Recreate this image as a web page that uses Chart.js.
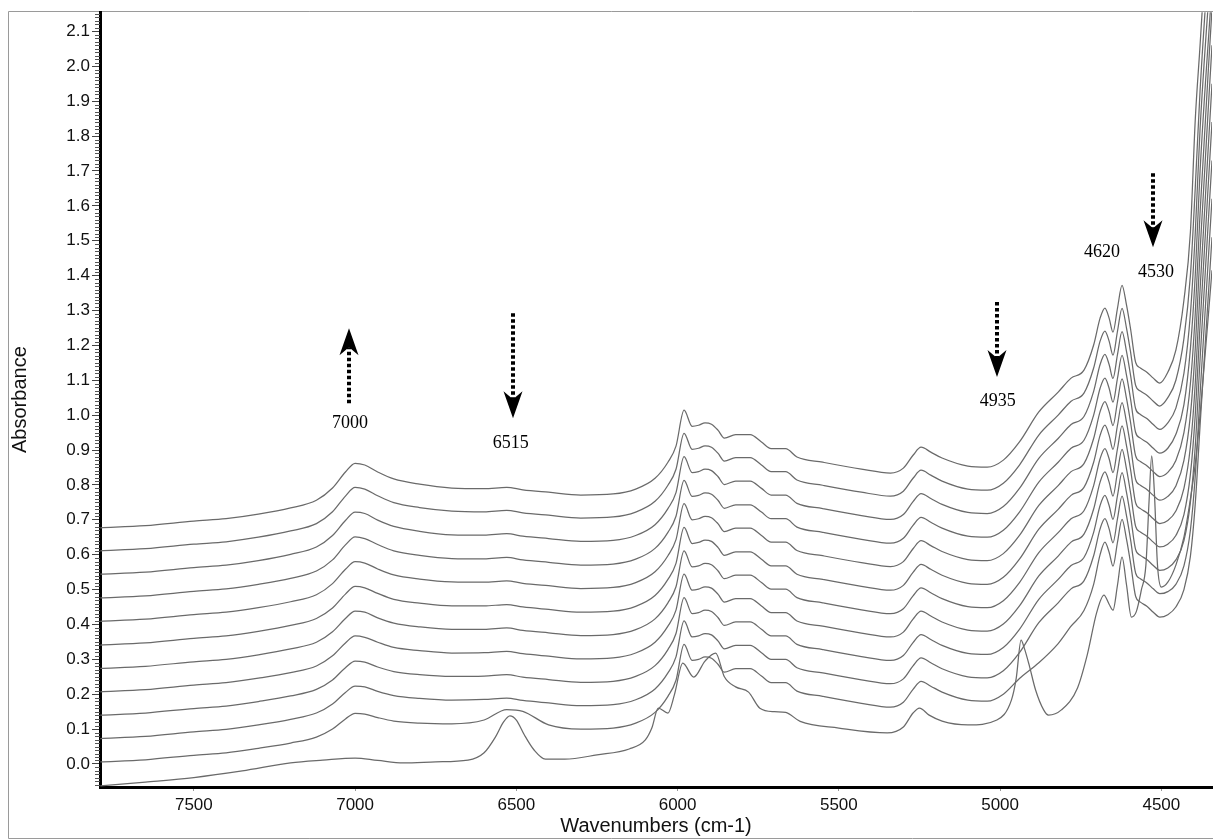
<!DOCTYPE html>
<html>
<head>
<meta charset="utf-8">
<script src="https://cdn.jsdelivr.net/npm/chart.js@4.4.1/dist/chart.umd.min.js"></script>
<style>
html,body{margin:0;padding:0;background:#fff;}
canvas{display:block;}
</style>
</head>
<body>
<canvas id="c" width="1213" height="840"></canvas>
<script>
// ---------- DATA ----------
const xTicks = [7500, 7000, 6500, 6000, 5500, 5000, 4500];
const yTicks = [0.0,0.1,0.2,0.3,0.4,0.5,0.6,0.7,0.8,0.9,1.0,1.1,1.2,1.3,1.4,1.5,1.6,1.7,1.8,1.9,2.0,2.1];
const xMin = 4343, xMax = 7791, yMin = -0.066, yMax = 2.155;
const yMinorStep = 0.01;

const wavenumbers = [7790,7650,7500,7400,7300,7200,7120,7070,7030,7000,6970,6930,6880,6800,6700,6600,6530,6480,6400,6300,6200,6130,6070,6030,6005,5980,5955,5935,5915,5895,5875,5855,5820,5775,5740,5710,5665,5630,5550,5430,5340,5300,5270,5245,5215,5180,5100,5040,4990,4940,4880,4820,4780,4740,4710,4690,4675,4662,4650,4636,4622,4608,4595,4580,4565,4545,4525,4505,4480,4455,4430,4410,4395,4380,4343];

const spectrum1 = [0.677,0.683,0.696,0.703,0.716,0.734,0.756,0.791,0.837,0.862,0.857,0.837,0.817,0.802,0.791,0.789,0.793,0.786,0.779,0.771,0.774,0.788,0.819,0.865,0.911,1.014,0.968,0.971,0.978,0.974,0.957,0.934,0.944,0.944,0.923,0.904,0.904,0.880,0.865,0.845,0.834,0.848,0.885,0.908,0.894,0.877,0.854,0.851,0.871,0.923,1.009,1.066,1.106,1.129,1.201,1.278,1.307,1.278,1.238,1.307,1.372,1.315,1.244,1.152,1.135,1.123,1.106,1.092,1.123,1.186,1.330,1.524,1.845,2.060,2.619];
const spectrum2 = [0.611,0.617,0.630,0.637,0.650,0.668,0.689,0.723,0.768,0.793,0.788,0.769,0.749,0.735,0.725,0.723,0.727,0.720,0.713,0.705,0.708,0.722,0.753,0.799,0.845,0.948,0.902,0.905,0.912,0.908,0.891,0.868,0.878,0.878,0.857,0.838,0.838,0.814,0.799,0.779,0.768,0.782,0.819,0.842,0.828,0.811,0.788,0.785,0.805,0.857,0.943,1.000,1.040,1.063,1.135,1.212,1.241,1.212,1.172,1.241,1.306,1.249,1.178,1.086,1.069,1.057,1.040,1.026,1.050,1.100,1.220,1.400,1.650,1.930,2.450];
const spectrum3 = [0.544,0.550,0.563,0.570,0.583,0.601,0.622,0.655,0.698,0.722,0.718,0.699,0.681,0.667,0.657,0.656,0.660,0.653,0.646,0.638,0.641,0.655,0.686,0.732,0.778,0.881,0.835,0.838,0.845,0.841,0.824,0.801,0.811,0.811,0.790,0.771,0.771,0.747,0.732,0.712,0.701,0.715,0.752,0.775,0.761,0.744,0.721,0.718,0.738,0.790,0.876,0.933,0.973,0.996,1.068,1.145,1.174,1.145,1.105,1.174,1.239,1.182,1.111,1.019,1.002,0.990,0.973,0.959,0.978,1.020,1.120,1.290,1.520,1.820,2.330];
const spectrum4 = [0.476,0.482,0.495,0.502,0.515,0.532,0.553,0.585,0.628,0.651,0.646,0.629,0.611,0.598,0.589,0.588,0.592,0.585,0.578,0.570,0.573,0.587,0.618,0.664,0.710,0.813,0.767,0.770,0.777,0.773,0.756,0.733,0.743,0.743,0.722,0.703,0.703,0.679,0.664,0.644,0.633,0.647,0.684,0.707,0.693,0.676,0.653,0.650,0.670,0.722,0.808,0.865,0.905,0.928,1.000,1.077,1.106,1.077,1.037,1.106,1.171,1.114,1.043,0.951,0.934,0.922,0.905,0.891,0.905,0.945,1.030,1.190,1.400,1.700,2.230];
const spectrum5 = [0.409,0.415,0.428,0.435,0.448,0.465,0.485,0.517,0.558,0.580,0.576,0.559,0.542,0.530,0.522,0.521,0.525,0.518,0.511,0.503,0.506,0.520,0.551,0.597,0.643,0.746,0.700,0.703,0.710,0.706,0.689,0.666,0.676,0.676,0.655,0.636,0.636,0.612,0.597,0.577,0.566,0.580,0.617,0.640,0.626,0.609,0.586,0.583,0.603,0.655,0.741,0.798,0.838,0.861,0.933,1.010,1.039,1.010,0.970,1.039,1.104,1.047,0.976,0.884,0.867,0.855,0.838,0.824,0.836,0.870,0.950,1.090,1.290,1.580,2.165];
const spectrum6 = [0.341,0.347,0.360,0.367,0.380,0.397,0.417,0.447,0.487,0.509,0.505,0.489,0.472,0.461,0.453,0.453,0.457,0.450,0.443,0.435,0.438,0.452,0.483,0.529,0.575,0.678,0.632,0.635,0.642,0.638,0.621,0.598,0.608,0.608,0.587,0.568,0.568,0.544,0.529,0.509,0.498,0.512,0.549,0.572,0.558,0.541,0.518,0.515,0.535,0.587,0.673,0.730,0.770,0.793,0.865,0.942,0.971,0.942,0.902,0.971,1.036,0.979,0.908,0.816,0.799,0.787,0.770,0.756,0.767,0.797,0.870,1.000,1.190,1.470,2.060];
const spectrum7 = [0.274,0.280,0.293,0.300,0.313,0.330,0.349,0.379,0.417,0.438,0.435,0.419,0.404,0.393,0.386,0.386,0.390,0.383,0.376,0.368,0.371,0.385,0.416,0.462,0.508,0.611,0.565,0.568,0.575,0.571,0.554,0.531,0.541,0.541,0.520,0.501,0.501,0.477,0.462,0.442,0.431,0.445,0.482,0.505,0.491,0.474,0.451,0.448,0.468,0.520,0.606,0.663,0.703,0.726,0.798,0.875,0.904,0.875,0.835,0.904,0.969,0.912,0.841,0.749,0.732,0.720,0.703,0.689,0.698,0.725,0.790,0.910,1.090,1.360,1.950];
const spectrum8 = [0.207,0.213,0.226,0.233,0.246,0.262,0.281,0.310,0.347,0.367,0.363,0.349,0.334,0.325,0.318,0.319,0.323,0.316,0.309,0.301,0.304,0.318,0.349,0.395,0.441,0.544,0.498,0.501,0.508,0.504,0.487,0.464,0.474,0.474,0.453,0.434,0.434,0.410,0.395,0.375,0.364,0.378,0.415,0.438,0.424,0.407,0.384,0.381,0.401,0.453,0.539,0.596,0.636,0.659,0.731,0.808,0.837,0.808,0.768,0.837,0.902,0.845,0.774,0.682,0.665,0.653,0.636,0.622,0.630,0.655,0.715,0.830,1.000,1.260,1.840];
const spectrum9 = [0.140,0.146,0.159,0.166,0.179,0.195,0.214,0.241,0.276,0.295,0.292,0.278,0.265,0.256,0.251,0.252,0.256,0.249,0.242,0.234,0.237,0.251,0.282,0.328,0.374,0.477,0.431,0.434,0.441,0.437,0.420,0.397,0.407,0.407,0.386,0.367,0.367,0.343,0.328,0.308,0.297,0.311,0.348,0.371,0.357,0.340,0.317,0.314,0.334,0.386,0.472,0.529,0.569,0.592,0.664,0.741,0.770,0.741,0.701,0.770,0.835,0.778,0.707,0.615,0.598,0.586,0.569,0.555,0.562,0.585,0.640,0.750,0.910,1.160,1.730];
const spectrum10 = [0.073,0.079,0.092,0.099,0.112,0.128,0.146,0.172,0.205,0.223,0.221,0.208,0.196,0.188,0.183,0.185,0.189,0.182,0.175,0.167,0.170,0.184,0.215,0.261,0.307,0.410,0.364,0.367,0.374,0.370,0.353,0.330,0.340,0.340,0.319,0.300,0.300,0.276,0.261,0.241,0.230,0.244,0.281,0.304,0.290,0.273,0.250,0.247,0.267,0.319,0.405,0.462,0.502,0.525,0.597,0.674,0.703,0.674,0.634,0.703,0.768,0.711,0.640,0.548,0.531,0.519,0.502,0.488,0.494,0.515,0.568,0.670,0.825,1.060,1.620];
const spectrum11 = [0.006,0.012,0.025,0.032,0.045,0.060,0.077,0.100,0.129,0.145,0.143,0.133,0.123,0.117,0.115,0.126,0.156,0.151,0.112,0.100,0.103,0.117,0.148,0.194,0.240,0.343,0.297,0.300,0.307,0.303,0.286,0.263,0.273,0.273,0.252,0.233,0.233,0.209,0.194,0.174,0.163,0.177,0.214,0.237,0.223,0.206,0.183,0.180,0.200,0.245,0.290,0.345,0.395,0.440,0.515,0.600,0.636,0.607,0.567,0.636,0.701,0.644,0.573,0.481,0.464,0.452,0.435,0.421,0.428,0.450,0.500,0.595,0.745,0.970,1.510];

const spectrum12Wavenumbers = [7790,7650,7500,7350,7200,7100,7000,6930,6850,6750,6650,6600,6565,6540,6520,6500,6475,6445,6410,6350,6250,6150,6100,6080,6060,6030,6010,5984,5950,5915,5882,5855,5820,5780,5745,5700,5665,5620,5500,5350,5300,5270,5250,5220,5180,5100,5010,4965,4950,4935,4925,4910,4890,4865,4850,4810,4760,4730,4700,4678,4662,4650,4636,4622,4608,4593,4578,4562,4548,4538,4530,4522,4512,4500,4480,4455,4430,4410,4395,4380,4343];
const spectrum12 = [-0.063,-0.052,-0.039,-0.020,0.003,0.011,0.017,0.010,0.003,0.006,0.011,0.032,0.077,0.120,0.138,0.126,0.083,0.040,0.014,0.014,0.026,0.043,0.069,0.103,0.160,0.146,0.198,0.289,0.249,0.295,0.318,0.250,0.221,0.206,0.160,0.150,0.148,0.122,0.103,0.089,0.106,0.146,0.160,0.140,0.123,0.112,0.126,0.183,0.246,0.355,0.332,0.284,0.212,0.155,0.140,0.155,0.218,0.312,0.436,0.484,0.458,0.441,0.513,0.593,0.513,0.421,0.436,0.499,0.570,0.756,0.883,0.785,0.570,0.507,0.521,0.570,0.650,0.759,0.860,1.000,1.415];

// annotations (band labels and arrows), in axis units
const bandLabels = ['7000', '6515', '4935', '4620', '4530'];
const bandLabelX = [7016, 6517, 5007, 4684, 4517];
const bandLabelY = [0.977, 0.920, 1.040, 1.467, 1.410];
const arrowX = [7019, 6511, 5010, 4526];
const arrowFrom = [1.034, 1.292, 1.324, 1.693];
const arrowTo = [1.249, 0.991, 1.109, 1.481];

// ---------- CHART ----------
const sameGrid = [spectrum1, spectrum2, spectrum3, spectrum4, spectrum5, spectrum6, spectrum7, spectrum8, spectrum9, spectrum10, spectrum11];
const lineColor = '#6a6a6a';
const datasets = sameGrid.map((vals, k) => ({
  label: 'Spectrum ' + (k + 1),
  data: wavenumbers.map((w, i) => ({x: w, y: vals[i]})),
  borderColor: lineColor, borderWidth: 1.25, pointRadius: 0,
  cubicInterpolationMode: 'monotone', fill: false
}));
datasets.push({
  label: 'Spectrum 12',
  data: spectrum12Wavenumbers.map((w, i) => ({x: w, y: spectrum12[i]})),
  borderColor: lineColor, borderWidth: 1.25, pointRadius: 0,
  cubicInterpolationMode: 'monotone', fill: false
});

const sansFamily = '"Liberation Sans", Arial, "Noto Sans", sans-serif';

const framePlugin = {
  id: 'frame',
  beforeDraw(chart) {
    const {ctx, width, height} = chart;
    ctx.save();
    ctx.fillStyle = '#fff';
    ctx.fillRect(0, 0, width, height);
    ctx.strokeStyle = '#9a9a9a';
    ctx.lineWidth = 1;
    ctx.beginPath();
    ctx.moveTo(width + 2, 11.5);
    ctx.lineTo(8.5, 11.5);
    ctx.lineTo(8.5, 838.5);
    ctx.lineTo(width + 2, 838.5);
    ctx.stroke();
    ctx.restore();
  }
};

const minorTickPlugin = {
  id: 'minorTicks',
  afterDraw(chart) {
    const {ctx, chartArea} = chart;
    const y = chart.scales.y;
    ctx.save();
    ctx.strokeStyle = '#555';
    ctx.lineWidth = 1;
    ctx.beginPath();
    const n0 = Math.ceil(yMin / yMinorStep), n1 = Math.floor(yMax / yMinorStep);
    for (let k = n0; k <= n1; k++) {
      if (k % 10 === 0) continue;
      const py = Math.round(y.getPixelForValue(k * yMinorStep)) + 0.5;
      ctx.moveTo(chartArea.left - 5, py);
      ctx.lineTo(chartArea.left, py);
    }
    ctx.stroke();
    ctx.restore();
  }
};

const annotationPlugin = {
  id: 'bandAnnotations',
  afterDatasetsDraw(chart) {
    const {ctx} = chart;
    const x = chart.scales.x, y = chart.scales.y;
    ctx.save();
    ctx.fillStyle = '#000';
    ctx.strokeStyle = '#000';
    for (let i = 0; i < arrowX.length; i++) {
      const px = Math.round(x.getPixelForValue(arrowX[i]));
      const p0 = y.getPixelForValue(arrowFrom[i]);
      const p1 = y.getPixelForValue(arrowTo[i]);
      const dir = Math.sign(p1 - p0);
      const headLen = 27, notch = 19, half = 9.5;
      ctx.setLineDash([3.5, 2.5]);
      ctx.lineWidth = 4;
      ctx.lineCap = 'butt';
      ctx.beginPath();
      ctx.moveTo(px, p0);
      ctx.lineTo(px, p1 - dir * notch);
      ctx.stroke();
      ctx.setLineDash([]);
      ctx.beginPath();
      ctx.moveTo(px, p1);
      ctx.lineTo(px - half, p1 - dir * headLen);
      ctx.lineTo(px, p1 - dir * notch);
      ctx.lineTo(px + half, p1 - dir * headLen);
      ctx.closePath();
      ctx.fill();
    }
    ctx.font = '18px "Liberation Serif", "Times New Roman", "DejaVu Serif", serif';
    ctx.textAlign = 'center';
    ctx.textBaseline = 'middle';
    for (let i = 0; i < bandLabels.length; i++) {
      ctx.fillText(bandLabels[i], x.getPixelForValue(bandLabelX[i]), y.getPixelForValue(bandLabelY[i]));
    }
    ctx.restore();
  }
};

new Chart(document.getElementById('c'), {
  type: 'line',
  data: {datasets},
  options: {
    responsive: false,
    animation: false,
    devicePixelRatio: 1,
    layout: {padding: {left: 0, top: 12, right: 1, bottom: 0}},
    plugins: {legend: {display: false}, tooltip: {enabled: false}},
    scales: {
      x: {
        type: 'linear', reverse: true, min: xMin, max: xMax,
        afterBuildTicks: (axis) => { axis.ticks = xTicks.map(v => ({value: v})); },
        afterFit: (scale) => { scale.height = 53; },
        ticks: {autoSkip: false, maxRotation: 0, padding: 4, color: '#111',
                font: {family: sansFamily, size: 17}, callback: (v) => String(v)},
        grid: {drawOnChartArea: false, drawTicks: true, tickLength: 4, tickColor: '#999'},
        border: {display: true, color: '#000', width: 3},
        title: {display: true, text: 'Wavenumbers (cm-1)', color: '#111',
                font: {family: sansFamily, size: 20}, padding: {top: 0, bottom: 2}}
      },
      y: {
        type: 'linear', min: yMin, max: yMax,
        afterBuildTicks: (axis) => { axis.ticks = yTicks.map(v => ({value: v})); },
        afterFit: (scale) => { scale.width = 100; },
        ticks: {padding: 2, color: '#111', font: {family: sansFamily, size: 17},
                callback: (v) => Number(v).toFixed(1)},
        grid: {drawOnChartArea: false, drawTicks: true, tickLength: 8, tickColor: '#444'},
        border: {display: true, color: '#000', width: 3},
        title: {display: true, text: 'Absorbance', color: '#111',
                font: {family: sansFamily, size: 20}, padding: {top: 8, bottom: 0}}
      }
    }
  },
  plugins: [framePlugin, minorTickPlugin, annotationPlugin]
});
</script>
</body>
</html>
